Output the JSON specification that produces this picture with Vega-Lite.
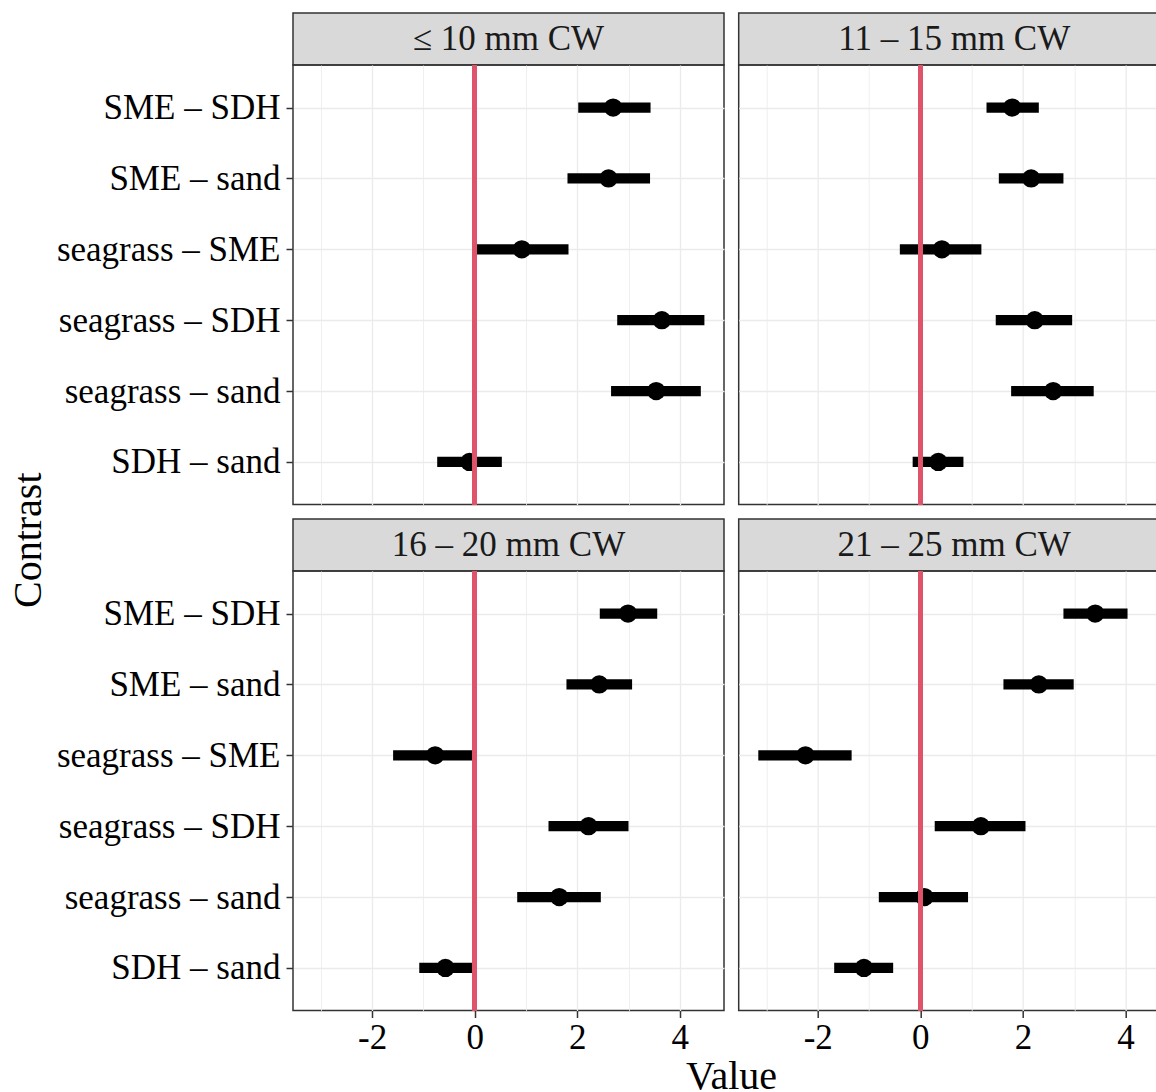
{
  "$schema": "https://vega.github.io/schema/vega-lite/v6.json",
  "padding": {"left": 8, "top": 12, "right": 0, "bottom": 0},
  "background": "white",
  "datasets": {
    "est": [
      {"size": "≤ 10 mm CW", "contrast": "SME – SDH", "est": 2.70, "lo": 2.02, "hi": 3.43},
      {"size": "≤ 10 mm CW", "contrast": "SME – sand", "est": 2.61, "lo": 1.81, "hi": 3.42},
      {"size": "≤ 10 mm CW", "contrast": "seagrass – SME", "est": 0.92, "lo": 0.04, "hi": 1.83},
      {"size": "≤ 10 mm CW", "contrast": "seagrass – SDH", "est": 3.65, "lo": 2.78, "hi": 4.48},
      {"size": "≤ 10 mm CW", "contrast": "seagrass – sand", "est": 3.54, "lo": 2.66, "hi": 4.41},
      {"size": "≤ 10 mm CW", "contrast": "SDH – sand", "est": -0.10, "lo": -0.73, "hi": 0.53},
      {"size": "11 – 15 mm CW", "contrast": "SME – SDH", "est": 1.79, "lo": 1.29, "hi": 2.31},
      {"size": "11 – 15 mm CW", "contrast": "SME – sand", "est": 2.16, "lo": 1.53, "hi": 2.79},
      {"size": "11 – 15 mm CW", "contrast": "seagrass – SME", "est": 0.42, "lo": -0.40, "hi": 1.19},
      {"size": "11 – 15 mm CW", "contrast": "seagrass – SDH", "est": 2.23, "lo": 1.47, "hi": 2.96},
      {"size": "11 – 15 mm CW", "contrast": "seagrass – sand", "est": 2.59, "lo": 1.77, "hi": 3.38},
      {"size": "11 – 15 mm CW", "contrast": "SDH – sand", "est": 0.35, "lo": -0.15, "hi": 0.84},
      {"size": "16 – 20 mm CW", "contrast": "SME – SDH", "est": 2.99, "lo": 2.44, "hi": 3.56},
      {"size": "16 – 20 mm CW", "contrast": "SME – sand", "est": 2.43, "lo": 1.79, "hi": 3.07},
      {"size": "16 – 20 mm CW", "contrast": "seagrass – SME", "est": -0.77, "lo": -1.59, "hi": -0.04},
      {"size": "16 – 20 mm CW", "contrast": "seagrass – SDH", "est": 2.22, "lo": 1.44, "hi": 3.00},
      {"size": "16 – 20 mm CW", "contrast": "seagrass – sand", "est": 1.65, "lo": 0.83, "hi": 2.46},
      {"size": "16 – 20 mm CW", "contrast": "SDH – sand", "est": -0.57, "lo": -1.08, "hi": -0.04},
      {"size": "21 – 25 mm CW", "contrast": "SME – SDH", "est": 3.41, "lo": 2.79, "hi": 4.04},
      {"size": "21 – 25 mm CW", "contrast": "SME – sand", "est": 2.31, "lo": 1.62, "hi": 2.99},
      {"size": "21 – 25 mm CW", "contrast": "seagrass – SME", "est": -2.24, "lo": -3.16, "hi": -1.34},
      {"size": "21 – 25 mm CW", "contrast": "seagrass – SDH", "est": 1.18, "lo": 0.28, "hi": 2.05},
      {"size": "21 – 25 mm CW", "contrast": "seagrass – sand", "est": 0.08, "lo": -0.81, "hi": 0.93},
      {"size": "21 – 25 mm CW", "contrast": "SDH – sand", "est": -1.10, "lo": -1.68, "hi": -0.53}
    ],
    "strips": [
      {"size": "≤ 10 mm CW"},
      {"size": "11 – 15 mm CW"},
      {"size": "16 – 20 mm CW"},
      {"size": "21 – 25 mm CW"}
    ]
  },
  "data": {"name": "est"},
  "title": {"text": "Value", "orient": "bottom", "anchor": "middle", "dx": 142, "offset": 1, "font": "Liberation Serif", "fontSize": 40, "fontWeight": "normal", "color": "black"},
  "spacing": 12.7,
  "hconcat": [
    {
      "title": {"text": "Contrast", "orient": "left", "anchor": "middle", "offset": 7, "dx": -6, "font": "Liberation Serif", "fontSize": 40, "fontWeight": "normal", "color": "black"},
      "spacing": 10,
      "vconcat": [
        {
          "spacing": 0,
          "bounds": "flush",
          "vconcat": [
            {
              "width": 431, "height": 52,
              "data": {"name": "strips"},
              "transform": [{"filter": "datum.size === '≤ 10 mm CW'"}],
              "view": {"fill": "#D9D9D9", "stroke": "#333333", "strokeWidth": 1.5},
              "mark": {"type": "text", "font": "Liberation Serif", "fontSize": 35, "color": "#1A1A1A", "baseline": "middle", "align": "center"},
              "encoding": {"text": {"field": "size", "type": "nominal"}}
            },
            {
              "width": 431, "height": 439.5,
              "transform": [{"filter": "datum.size === '≤ 10 mm CW'"}],
              "layer": [
                {
                  "mark": {"type": "rule", "color": "black", "strokeWidth": 10.3, "strokeCap": "butt"},
                  "encoding": {
                    "y": {"field": "contrast", "type": "nominal", "title": null, "sort": ["SME – SDH", "SME – sand", "seagrass – SME", "seagrass – SDH", "seagrass – sand", "SDH – sand"], "scale": {"type": "point", "padding": 0.6},
                      "axis": {"labels": true, "labelFont": "Liberation Serif", "labelFontSize": 35, "labelColor": "black", "labelLimit": 400, "labelPadding": 6, "ticks": true, "tickSize": 7, "tickWidth": 1.5, "tickColor": "#333333", "domain": false, "grid": true, "gridColor": "#EBEBEB", "gridWidth": 1.3}},
                    "x": {"field": "lo", "type": "quantitative", "title": null, "scale": {"domain": [-3.542, 4.862], "nice": false, "zero": false},
                      "axis": {"values": [-3, -2, -1, 0, 1, 2, 3, 4], "labels": false, "ticks": false, "domain": false, "grid": true, "gridColor": "#EBEBEB", "gridWidth": {"condition": {"test": "datum.value % 2 === 0", "value": 1.3}, "value": 0.8}}},
                    "x2": {"field": "hi"}
                  }
                },
                {
                  "mark": {"type": "circle", "color": "black", "size": 335, "opacity": 1},
                  "encoding": {
                    "y": {"field": "contrast", "type": "nominal", "title": null, "sort": ["SME – SDH", "SME – sand", "seagrass – SME", "seagrass – SDH", "seagrass – sand", "SDH – sand"]},
                    "x": {"field": "est", "type": "quantitative", "title": null}
                  }
                },
                {
                  "mark": {"type": "rule", "color": "#DF536B", "strokeWidth": 4.7, "strokeCap": "butt"},
                  "encoding": {"x": {"datum": 0, "type": "quantitative", "title": null}}
                }
              ]
            }
          ]
        },
        {
          "spacing": 0,
          "bounds": "flush",
          "vconcat": [
            {
              "width": 431, "height": 52,
              "data": {"name": "strips"},
              "transform": [{"filter": "datum.size === '16 – 20 mm CW'"}],
              "view": {"fill": "#D9D9D9", "stroke": "#333333", "strokeWidth": 1.5},
              "mark": {"type": "text", "font": "Liberation Serif", "fontSize": 35, "color": "#1A1A1A", "baseline": "middle", "align": "center"},
              "encoding": {"text": {"field": "size", "type": "nominal"}}
            },
            {
              "width": 431, "height": 439.5,
              "transform": [{"filter": "datum.size === '16 – 20 mm CW'"}],
              "layer": [
                {
                  "mark": {"type": "rule", "color": "black", "strokeWidth": 10.3, "strokeCap": "butt"},
                  "encoding": {
                    "y": {"field": "contrast", "type": "nominal", "title": null, "sort": ["SME – SDH", "SME – sand", "seagrass – SME", "seagrass – SDH", "seagrass – sand", "SDH – sand"], "scale": {"type": "point", "padding": 0.6},
                      "axis": {"labels": true, "labelFont": "Liberation Serif", "labelFontSize": 35, "labelColor": "black", "labelLimit": 400, "labelPadding": 6, "ticks": true, "tickSize": 7, "tickWidth": 1.5, "tickColor": "#333333", "domain": false, "grid": true, "gridColor": "#EBEBEB", "gridWidth": 1.3}},
                    "x": {"field": "lo", "type": "quantitative", "title": null, "scale": {"domain": [-3.542, 4.862], "nice": false, "zero": false},
                      "axis": {"values": [-3, -2, -1, 0, 1, 2, 3, 4], "labelExpr": "datum.value % 2 === 0 ? '' + datum.value : ''", "labelFont": "Liberation Serif", "labelFontSize": 35, "labelColor": "black", "labelPadding": 3, "ticks": true, "tickSize": 7, "tickWidth": 1.5, "tickColor": "#333333", "tickOpacity": {"condition": {"test": "datum.value % 2 === 0", "value": 1}, "value": 0}, "domain": false, "grid": true, "gridColor": "#EBEBEB", "gridWidth": {"condition": {"test": "datum.value % 2 === 0", "value": 1.3}, "value": 0.8}}},
                    "x2": {"field": "hi"}
                  }
                },
                {
                  "mark": {"type": "circle", "color": "black", "size": 335, "opacity": 1},
                  "encoding": {
                    "y": {"field": "contrast", "type": "nominal", "title": null, "sort": ["SME – SDH", "SME – sand", "seagrass – SME", "seagrass – SDH", "seagrass – sand", "SDH – sand"]},
                    "x": {"field": "est", "type": "quantitative", "title": null}
                  }
                },
                {
                  "mark": {"type": "rule", "color": "#DF536B", "strokeWidth": 4.7, "strokeCap": "butt"},
                  "encoding": {"x": {"datum": 0, "type": "quantitative", "title": null}}
                }
              ]
            }
          ]
        }
      ]
    },
    {
      "spacing": 10,
      "vconcat": [
        {
          "spacing": 0,
          "bounds": "flush",
          "vconcat": [
            {
              "width": 431, "height": 52,
              "data": {"name": "strips"},
              "transform": [{"filter": "datum.size === '11 – 15 mm CW'"}],
              "view": {"fill": "#D9D9D9", "stroke": "#333333", "strokeWidth": 1.5},
              "mark": {"type": "text", "font": "Liberation Serif", "fontSize": 35, "color": "#1A1A1A", "baseline": "middle", "align": "center"},
              "encoding": {"text": {"field": "size", "type": "nominal"}}
            },
            {
              "width": 431, "height": 439.5,
              "transform": [{"filter": "datum.size === '11 – 15 mm CW'"}],
              "layer": [
                {
                  "mark": {"type": "rule", "color": "black", "strokeWidth": 10.3, "strokeCap": "butt"},
                  "encoding": {
                    "y": {"field": "contrast", "type": "nominal", "title": null, "sort": ["SME – SDH", "SME – sand", "seagrass – SME", "seagrass – SDH", "seagrass – sand", "SDH – sand"], "scale": {"type": "point", "padding": 0.6},
                      "axis": {"labels": false, "ticks": false, "domain": false, "grid": true, "gridColor": "#EBEBEB", "gridWidth": 1.3}},
                    "x": {"field": "lo", "type": "quantitative", "title": null, "scale": {"domain": [-3.542, 4.862], "nice": false, "zero": false},
                      "axis": {"values": [-3, -2, -1, 0, 1, 2, 3, 4], "labels": false, "ticks": false, "domain": false, "grid": true, "gridColor": "#EBEBEB", "gridWidth": {"condition": {"test": "datum.value % 2 === 0", "value": 1.3}, "value": 0.8}}},
                    "x2": {"field": "hi"}
                  }
                },
                {
                  "mark": {"type": "circle", "color": "black", "size": 335, "opacity": 1},
                  "encoding": {
                    "y": {"field": "contrast", "type": "nominal", "title": null, "sort": ["SME – SDH", "SME – sand", "seagrass – SME", "seagrass – SDH", "seagrass – sand", "SDH – sand"]},
                    "x": {"field": "est", "type": "quantitative", "title": null}
                  }
                },
                {
                  "mark": {"type": "rule", "color": "#DF536B", "strokeWidth": 4.7, "strokeCap": "butt"},
                  "encoding": {"x": {"datum": 0, "type": "quantitative", "title": null}}
                }
              ]
            }
          ]
        },
        {
          "spacing": 0,
          "bounds": "flush",
          "vconcat": [
            {
              "width": 431, "height": 52,
              "data": {"name": "strips"},
              "transform": [{"filter": "datum.size === '21 – 25 mm CW'"}],
              "view": {"fill": "#D9D9D9", "stroke": "#333333", "strokeWidth": 1.5},
              "mark": {"type": "text", "font": "Liberation Serif", "fontSize": 35, "color": "#1A1A1A", "baseline": "middle", "align": "center"},
              "encoding": {"text": {"field": "size", "type": "nominal"}}
            },
            {
              "width": 431, "height": 439.5,
              "transform": [{"filter": "datum.size === '21 – 25 mm CW'"}],
              "layer": [
                {
                  "mark": {"type": "rule", "color": "black", "strokeWidth": 10.3, "strokeCap": "butt"},
                  "encoding": {
                    "y": {"field": "contrast", "type": "nominal", "title": null, "sort": ["SME – SDH", "SME – sand", "seagrass – SME", "seagrass – SDH", "seagrass – sand", "SDH – sand"], "scale": {"type": "point", "padding": 0.6},
                      "axis": {"labels": false, "ticks": false, "domain": false, "grid": true, "gridColor": "#EBEBEB", "gridWidth": 1.3}},
                    "x": {"field": "lo", "type": "quantitative", "title": null, "scale": {"domain": [-3.542, 4.862], "nice": false, "zero": false},
                      "axis": {"values": [-3, -2, -1, 0, 1, 2, 3, 4], "labelExpr": "datum.value % 2 === 0 ? '' + datum.value : ''", "labelFont": "Liberation Serif", "labelFontSize": 35, "labelColor": "black", "labelPadding": 3, "ticks": true, "tickSize": 7, "tickWidth": 1.5, "tickColor": "#333333", "tickOpacity": {"condition": {"test": "datum.value % 2 === 0", "value": 1}, "value": 0}, "domain": false, "grid": true, "gridColor": "#EBEBEB", "gridWidth": {"condition": {"test": "datum.value % 2 === 0", "value": 1.3}, "value": 0.8}}},
                    "x2": {"field": "hi"}
                  }
                },
                {
                  "mark": {"type": "circle", "color": "black", "size": 335, "opacity": 1},
                  "encoding": {
                    "y": {"field": "contrast", "type": "nominal", "title": null, "sort": ["SME – SDH", "SME – sand", "seagrass – SME", "seagrass – SDH", "seagrass – sand", "SDH – sand"]},
                    "x": {"field": "est", "type": "quantitative", "title": null}
                  }
                },
                {
                  "mark": {"type": "rule", "color": "#DF536B", "strokeWidth": 4.7, "strokeCap": "butt"},
                  "encoding": {"x": {"datum": 0, "type": "quantitative", "title": null}}
                }
              ]
            }
          ]
        }
      ]
    }
  ],
  "config": {
    "view": {"stroke": "#333333", "strokeWidth": 1.5},
    "font": "Liberation Serif",
    "axis": {"labelFont": "Liberation Serif"}
  }
}
